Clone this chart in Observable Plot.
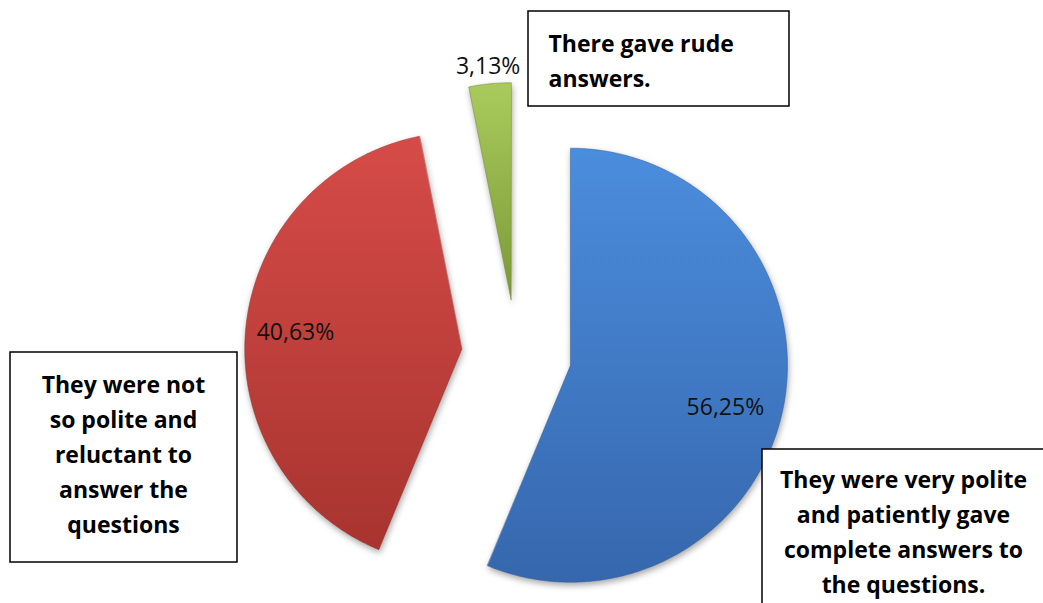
<!DOCTYPE html>
<html>
<head>
<meta charset="utf-8">
<script src="https://cdn.jsdelivr.net/npm/d3@7"></script>
<script src="https://cdn.jsdelivr.net/npm/@observablehq/plot@0.6"></script>
<style>
  html, body { margin: 0; padding: 0; background: #fff; }
  #chart svg { display: block; }
</style>
</head>
<body>
<div id="chart"></div>
<script>
// ---- data ----
const categories = [
  "They were very polite and patiently gave complete answers to the questions.",
  "They were not so polite and reluctant to answer the questions",
  "There gave rude answers."
];
const values = [56.25, 40.63, 3.13];
const boxTexts = [
  "They were very polite\nand patiently gave\ncomplete answers to\nthe questions.",
  "They were not\nso polite and\nreluctant to\nanswer the\nquestions",
  "There gave rude\nanswers."
];

// ---- layout ----
const W = 1043, H = 603;
const cx = 516, cy = 354, R = 217, explode = 55;
const gradStops = [
  ["#4b8ddd", "#3667ad"],
  ["#d64b48", "#a8342f"],
  ["#a9cb5c", "#7b9936"]
];
const strokeCols = ["#2f5d9c", "#9a2f2b", "#6f8a31"];
// label placement relative to slice (radius factor, angle shift in degrees)
const labelPlace = [[0.74, 4], [0.77, 0], [1.08, 0]];
// annotation boxes (pixel layout)
const boxes = [
  {x1: 762, x2: 1046, y1: 449, y2: 610, tx: 903, ty: 529, anchor: "middle"},
  {x1: 10, x2: 237, y1: 352, y2: 562, tx: 123, ty: 451, anchor: "middle"},
  {x1: 528, x2: 789, y1: 11, y2: 106, tx: 548, ty: 58, anchor: "start"}
];

const fmt = v => d3.format(".2f")(v).replace(".", ",") + "%";

const arcs = d3.pie().sort(null).startAngle(0).endAngle(2 * Math.PI)(values);

const slices = arcs.map((a, i) => {
  const mid = (a.startAngle + a.endAngle) / 2;
  const ox = cx + explode * Math.sin(mid), oy = cy - explode * Math.cos(mid);
  const pts = [{x: ox, y: oy}];
  const n = Math.max(8, Math.ceil((a.endAngle - a.startAngle) / 0.01));
  for (let k = 0; k <= n; k++) {
    const t = a.startAngle + (a.endAngle - a.startAngle) * k / n;
    pts.push({x: ox + R * Math.sin(t), y: oy - R * Math.cos(t)});
  }
  const [lf, sh] = labelPlace[i];
  const la = mid + sh * Math.PI / 180;
  return {
    i, pts,
    label: {x: ox + lf * R * Math.sin(la), y: oy - lf * R * Math.cos(la), text: fmt(values[i])}
  };
});

const marks = [];
slices.forEach(s => {
  marks.push(Plot.line(s.pts, {
    x: "x", y: "y", curve: "linear-closed",
    fill: `url(#sliceGrad${s.i})`,
    stroke: strokeCols[s.i], strokeWidth: 1, strokeOpacity: 0.5
  }));
});
marks.push(Plot.text(slices.map(s => s.label), {
  x: "x", y: "y", text: "text", fontSize: 23, fill: "#111", textAnchor: "middle"
}));
marks.push(Plot.rect(boxes, {
  x1: "x1", x2: "x2", y1: "y1", y2: "y2", fill: "white", stroke: "black", strokeWidth: 1.5
}));
boxes.forEach((b, i) => {
  marks.push(Plot.text([b], {
    x: "tx", y: "ty", text: () => boxTexts[i], textAnchor: b.anchor,
    fontSize: 23, fontWeight: "bold", fill: "#000", lineHeight: 1.52
  }));
});

const svg = Plot.plot({
  width: W, height: H,
  margin: 0,
  x: {domain: [0, W], range: [0, W], axis: null},
  y: {domain: [0, H], range: [0, H], axis: null},
  style: {fontFamily: "'Open Sans', sans-serif", background: "white", overflow: "hidden"},
  marks
});

// gradients for slices
const defs = d3.select(svg).insert("defs", ":first-child");
gradStops.forEach((st, i) => {
  const g = defs.append("linearGradient")
    .attr("id", `sliceGrad${i}`).attr("x1", 0).attr("y1", 0).attr("x2", 0).attr("y2", 1);
  g.append("stop").attr("offset", "0%").attr("stop-color", st[0]);
  g.append("stop").attr("offset", "100%").attr("stop-color", st[1]);
});
svg.querySelectorAll('[fill^="url(#sliceGrad"]').forEach(el => {
  el.style.filter = "drop-shadow(1px 3px 3px rgba(0,0,0,0.35))";
});

document.getElementById("chart").appendChild(svg);
</script>
</body>
</html>
